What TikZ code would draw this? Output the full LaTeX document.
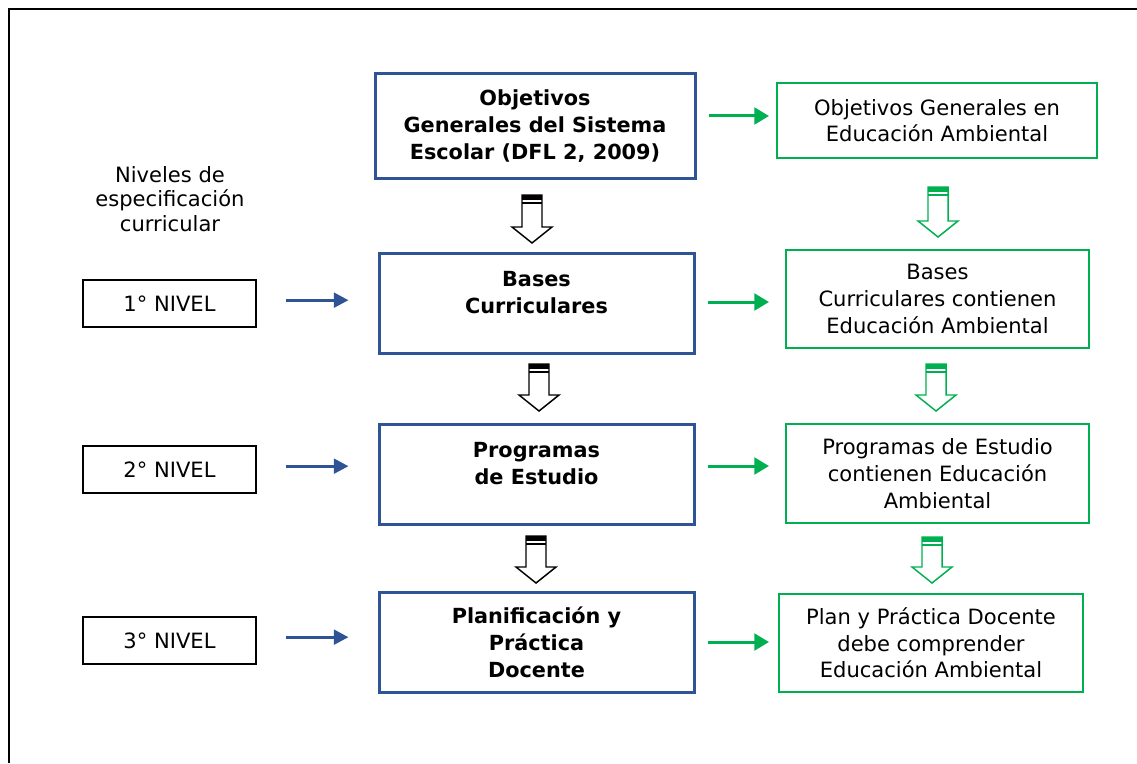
\documentclass[tikz,border=0pt]{standalone}
\usepackage{fontspec}
\setmainfont{DejaVu Sans}
\usetikzlibrary{arrows.meta,positioning,calc}
\definecolor{nivelblue}{RGB}{47,84,150}
\definecolor{eagreen}{RGB}{0,176,80}

\tikzset{
  txt/.style={font=\fontsize{15.8}{20}\selectfont, align=center, inner sep=0pt},
  bluebox/.style={txt, draw=nivelblue, line width=2.25pt, font=\fontsize{15.6}{20.3}\selectfont\bfseries},
  greenbox/.style={txt, draw=eagreen, line width=1.5pt},
  levelbox/.style={txt, draw=black, line width=1.1pt, minimum width=129.75pt, minimum height=35.25pt},
  bluearrow/.style={nivelblue, line width=2.25pt, -{Triangle[length=11pt,width=11pt]}, shorten <=21.75pt, shorten >=21.75pt},
  greenarrow/.style={eagreen, line width=2.25pt, -{Triangle[length=11pt,width=12.5pt]}, shorten <=9pt}
}

% hollow down arrow: colour, centre x, top y, tip y
\newcommand{\downblock}[4]{
  \draw[#1, line width=1.1pt, fill=white, line join=miter]
    (#2-10,#3) -- (#2-10,#4-16) -- (#2-20,#4-16) -- (#2,#4)
    -- (#2+20,#4-16) -- (#2+10,#4-16) -- (#2+10,#3) -- cycle;
  \fill[#1] (#2-10,#3) rectangle (#2+10,#3+5);
  \fill[#1] (#2-10,#3+6.5) rectangle (#2+10,#3+8.5);
}

\begin{document}
\begin{tikzpicture}[x=0.75pt, y=-0.75pt]
\useasboundingbox (0,0) rectangle (1137,763);

% Frame
\draw[line width=1.8pt] (9,763) -- (9,9) -- (1137,9);

% Levels column
\node[txt, font=\fontsize{15.8}{18.5}\selectfont] (titulo) at (170,199) {Niveles de\\especificación\\curricular};
\foreach \n/\y in {1/303.5, 2/469.5, 3/640.5}
  \node[levelbox] (lvl\n) at (169.5,\y) {\n° NIVEL};

% Curriculum boxes
\node[bluebox, minimum width=240pt, minimum height=78pt] (obj) at (535,126)
  {Objetivos\\Generales del Sistema\\Escolar (DFL 2, 2009)};
\node[bluebox, minimum width=236.25pt, minimum height=75pt] (bases) at (536.5,303)
  {Bases\\Curriculares\\[-10.5pt]\strut};
\node[bluebox, minimum width=236.25pt, minimum height=75pt] (prog) at (536.5,474)
  {Programas\\de Estudio\\[-10.5pt]\strut};
\node[bluebox, minimum width=236.25pt, minimum height=75pt] (plan) at (536.5,642)
  {Planificación y\\Práctica\\Docente};

% Environmental education boxes
\node[greenbox, minimum width=240pt, minimum height=56.25pt] (gobj) at (937,120.5)
  {Objetivos Generales en\\Educación Ambiental};
\node[greenbox, minimum width=227.25pt, minimum height=73.5pt] (gbases) at (937.5,299)
  {Bases\\Curriculares contienen\\Educación Ambiental};
\node[greenbox, minimum width=227.25pt, minimum height=74.25pt] (gprog) at (937.5,473.5)
  {Programas de Estudio\\contienen Educación\\Ambiental};
\node[greenbox, minimum width=228pt, minimum height=73.5pt] (gplan) at (931,643)
  {Plan y Práctica Docente\\debe comprender\\Educación Ambiental};

% Level arrows
\foreach \n/\b in {1/bases, 2/prog, 3/plan}
  \draw[bluearrow] ([yshift=2.5pt]lvl\n.east) -- ([yshift=2.5pt]lvl\n.east -| \b.west);

% Green arrows
\foreach \a/\b/\dy/\gap in {obj/gobj/7.5pt/5.25pt, bases/gbases/0.75pt/12pt, prog/gprog/6pt/12pt, plan/gplan/0pt/6.75pt}
  \draw[greenarrow, shorten >=\gap] ([yshift=\dy]\a.east) -- ([yshift=\dy]\a.east -| \b.west);

% Down arrows
\foreach \c/\x/\t/\p in {black/532/195/243, black/539/364/411, black/536/536/583,
                         eagreen/938/187/237, eagreen/936/364/411, eagreen/932/537/583}
  \downblock{\c}{\x}{\t}{\p};

\end{tikzpicture}
\end{document}
